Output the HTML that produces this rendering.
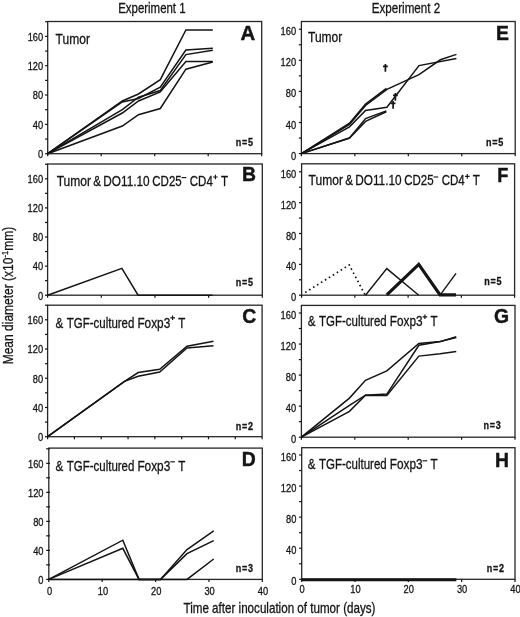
<!DOCTYPE html>
<html><head><meta charset="utf-8"><title>figure</title>
<style>html,body{margin:0;padding:0;background:#fff;}svg{display:block;filter:grayscale(1);}text{font-family:"Liberation Sans",sans-serif;fill:#141414;stroke:#141414;stroke-width:0.3px;}</style>
</head><body>
<svg width="520" height="617" viewBox="0 0 520 617">
<rect x="0" y="0" width="520" height="617" fill="#ffffff"/>
<text transform="translate(118.20,13.00) scale(0.79,1)" font-size="14.5" text-anchor="start" font-weight="normal" >Experiment 1</text>
<text transform="translate(371.80,13.00) scale(0.8,1)" font-size="14.5" text-anchor="start" font-weight="normal" >Experiment 2</text>
<rect x="47.70" y="21.50" width="214.00" height="132.20" fill="none" stroke="#262626" stroke-width="1.3"/>
<line x1="45.10" y1="153.70" x2="47.70" y2="153.70" stroke="#141414" stroke-width="1.2"/>
<text transform="translate(43.20,158.00) scale(0.81,1)" font-size="11.5" text-anchor="end" font-weight="normal" >0</text>
<line x1="45.10" y1="139.04" x2="47.70" y2="139.04" stroke="#141414" stroke-width="1.2"/>
<line x1="45.10" y1="124.38" x2="47.70" y2="124.38" stroke="#141414" stroke-width="1.2"/>
<text transform="translate(43.20,128.68) scale(0.81,1)" font-size="11.5" text-anchor="end" font-weight="normal" >40</text>
<line x1="45.10" y1="109.71" x2="47.70" y2="109.71" stroke="#141414" stroke-width="1.2"/>
<line x1="45.10" y1="95.05" x2="47.70" y2="95.05" stroke="#141414" stroke-width="1.2"/>
<text transform="translate(43.20,99.35) scale(0.81,1)" font-size="11.5" text-anchor="end" font-weight="normal" >80</text>
<line x1="45.10" y1="80.39" x2="47.70" y2="80.39" stroke="#141414" stroke-width="1.2"/>
<line x1="45.10" y1="65.72" x2="47.70" y2="65.72" stroke="#141414" stroke-width="1.2"/>
<text transform="translate(43.20,70.02) scale(0.81,1)" font-size="11.5" text-anchor="end" font-weight="normal" >120</text>
<line x1="45.10" y1="51.06" x2="47.70" y2="51.06" stroke="#141414" stroke-width="1.2"/>
<line x1="45.10" y1="36.40" x2="47.70" y2="36.40" stroke="#141414" stroke-width="1.2"/>
<text transform="translate(43.20,40.70) scale(0.81,1)" font-size="11.5" text-anchor="end" font-weight="normal" >160</text>
<line x1="45.10" y1="21.74" x2="47.70" y2="21.74" stroke="#141414" stroke-width="1.2"/>
<line x1="47.70" y1="153.70" x2="47.70" y2="156.30" stroke="#141414" stroke-width="1.2"/>
<line x1="101.20" y1="153.70" x2="101.20" y2="156.30" stroke="#141414" stroke-width="1.2"/>
<line x1="154.70" y1="153.70" x2="154.70" y2="156.30" stroke="#141414" stroke-width="1.2"/>
<line x1="208.20" y1="153.70" x2="208.20" y2="156.30" stroke="#141414" stroke-width="1.2"/>
<line x1="261.70" y1="153.70" x2="261.70" y2="156.30" stroke="#141414" stroke-width="1.2"/>
<rect x="47.60" y="164.00" width="214.70" height="131.20" fill="none" stroke="#262626" stroke-width="1.3"/>
<line x1="45.00" y1="295.20" x2="47.60" y2="295.20" stroke="#141414" stroke-width="1.2"/>
<text transform="translate(43.10,299.50) scale(0.81,1)" font-size="11.5" text-anchor="end" font-weight="normal" >0</text>
<line x1="45.00" y1="280.65" x2="47.60" y2="280.65" stroke="#141414" stroke-width="1.2"/>
<line x1="45.00" y1="266.10" x2="47.60" y2="266.10" stroke="#141414" stroke-width="1.2"/>
<text transform="translate(43.10,270.40) scale(0.81,1)" font-size="11.5" text-anchor="end" font-weight="normal" >40</text>
<line x1="45.00" y1="251.55" x2="47.60" y2="251.55" stroke="#141414" stroke-width="1.2"/>
<line x1="45.00" y1="237.00" x2="47.60" y2="237.00" stroke="#141414" stroke-width="1.2"/>
<text transform="translate(43.10,241.30) scale(0.81,1)" font-size="11.5" text-anchor="end" font-weight="normal" >80</text>
<line x1="45.00" y1="222.45" x2="47.60" y2="222.45" stroke="#141414" stroke-width="1.2"/>
<line x1="45.00" y1="207.90" x2="47.60" y2="207.90" stroke="#141414" stroke-width="1.2"/>
<text transform="translate(43.10,212.20) scale(0.81,1)" font-size="11.5" text-anchor="end" font-weight="normal" >120</text>
<line x1="45.00" y1="193.35" x2="47.60" y2="193.35" stroke="#141414" stroke-width="1.2"/>
<line x1="45.00" y1="178.80" x2="47.60" y2="178.80" stroke="#141414" stroke-width="1.2"/>
<text transform="translate(43.10,183.10) scale(0.81,1)" font-size="11.5" text-anchor="end" font-weight="normal" >160</text>
<line x1="45.00" y1="164.25" x2="47.60" y2="164.25" stroke="#141414" stroke-width="1.2"/>
<line x1="47.60" y1="295.20" x2="47.60" y2="297.80" stroke="#141414" stroke-width="1.2"/>
<line x1="101.28" y1="295.20" x2="101.28" y2="297.80" stroke="#141414" stroke-width="1.2"/>
<line x1="154.95" y1="295.20" x2="154.95" y2="297.80" stroke="#141414" stroke-width="1.2"/>
<line x1="208.62" y1="295.20" x2="208.62" y2="297.80" stroke="#141414" stroke-width="1.2"/>
<line x1="262.30" y1="295.20" x2="262.30" y2="297.80" stroke="#141414" stroke-width="1.2"/>
<rect x="47.60" y="305.20" width="214.50" height="131.50" fill="none" stroke="#262626" stroke-width="1.3"/>
<line x1="45.00" y1="436.70" x2="47.60" y2="436.70" stroke="#141414" stroke-width="1.2"/>
<text transform="translate(43.10,441.00) scale(0.81,1)" font-size="11.5" text-anchor="end" font-weight="normal" >0</text>
<line x1="45.00" y1="422.09" x2="47.60" y2="422.09" stroke="#141414" stroke-width="1.2"/>
<line x1="45.00" y1="407.48" x2="47.60" y2="407.48" stroke="#141414" stroke-width="1.2"/>
<text transform="translate(43.10,411.78) scale(0.81,1)" font-size="11.5" text-anchor="end" font-weight="normal" >40</text>
<line x1="45.00" y1="392.86" x2="47.60" y2="392.86" stroke="#141414" stroke-width="1.2"/>
<line x1="45.00" y1="378.25" x2="47.60" y2="378.25" stroke="#141414" stroke-width="1.2"/>
<text transform="translate(43.10,382.55) scale(0.81,1)" font-size="11.5" text-anchor="end" font-weight="normal" >80</text>
<line x1="45.00" y1="363.64" x2="47.60" y2="363.64" stroke="#141414" stroke-width="1.2"/>
<line x1="45.00" y1="349.02" x2="47.60" y2="349.02" stroke="#141414" stroke-width="1.2"/>
<text transform="translate(43.10,353.32) scale(0.81,1)" font-size="11.5" text-anchor="end" font-weight="normal" >120</text>
<line x1="45.00" y1="334.41" x2="47.60" y2="334.41" stroke="#141414" stroke-width="1.2"/>
<line x1="45.00" y1="319.80" x2="47.60" y2="319.80" stroke="#141414" stroke-width="1.2"/>
<text transform="translate(43.10,324.10) scale(0.81,1)" font-size="11.5" text-anchor="end" font-weight="normal" >160</text>
<line x1="45.00" y1="305.19" x2="47.60" y2="305.19" stroke="#141414" stroke-width="1.2"/>
<line x1="47.60" y1="436.70" x2="47.60" y2="439.30" stroke="#141414" stroke-width="1.2"/>
<line x1="74.41" y1="436.70" x2="74.41" y2="439.30" stroke="#141414" stroke-width="1.2"/>
<line x1="101.23" y1="436.70" x2="101.23" y2="439.30" stroke="#141414" stroke-width="1.2"/>
<line x1="128.04" y1="436.70" x2="128.04" y2="439.30" stroke="#141414" stroke-width="1.2"/>
<line x1="154.85" y1="436.70" x2="154.85" y2="439.30" stroke="#141414" stroke-width="1.2"/>
<line x1="181.66" y1="436.70" x2="181.66" y2="439.30" stroke="#141414" stroke-width="1.2"/>
<line x1="208.48" y1="436.70" x2="208.48" y2="439.30" stroke="#141414" stroke-width="1.2"/>
<line x1="235.29" y1="436.70" x2="235.29" y2="439.30" stroke="#141414" stroke-width="1.2"/>
<line x1="262.10" y1="436.70" x2="262.10" y2="439.30" stroke="#141414" stroke-width="1.2"/>
<rect x="48.80" y="448.10" width="213.50" height="131.30" fill="none" stroke="#262626" stroke-width="1.3"/>
<line x1="46.20" y1="579.40" x2="50.00" y2="579.40" stroke="#141414" stroke-width="1.2"/>
<text transform="translate(43.50,583.70) scale(0.81,1)" font-size="11.5" text-anchor="end" font-weight="normal" >0</text>
<line x1="46.20" y1="564.89" x2="50.00" y2="564.89" stroke="#141414" stroke-width="1.2"/>
<line x1="46.20" y1="550.38" x2="50.00" y2="550.38" stroke="#141414" stroke-width="1.2"/>
<text transform="translate(43.50,554.67) scale(0.81,1)" font-size="11.5" text-anchor="end" font-weight="normal" >40</text>
<line x1="46.20" y1="535.86" x2="50.00" y2="535.86" stroke="#141414" stroke-width="1.2"/>
<line x1="46.20" y1="521.35" x2="50.00" y2="521.35" stroke="#141414" stroke-width="1.2"/>
<text transform="translate(43.50,525.65) scale(0.81,1)" font-size="11.5" text-anchor="end" font-weight="normal" >80</text>
<line x1="46.20" y1="506.84" x2="50.00" y2="506.84" stroke="#141414" stroke-width="1.2"/>
<line x1="46.20" y1="492.32" x2="50.00" y2="492.32" stroke="#141414" stroke-width="1.2"/>
<text transform="translate(43.50,496.62) scale(0.81,1)" font-size="11.5" text-anchor="end" font-weight="normal" >120</text>
<line x1="46.20" y1="477.81" x2="50.00" y2="477.81" stroke="#141414" stroke-width="1.2"/>
<line x1="46.20" y1="463.30" x2="50.00" y2="463.30" stroke="#141414" stroke-width="1.2"/>
<text transform="translate(43.50,467.60) scale(0.81,1)" font-size="11.5" text-anchor="end" font-weight="normal" >160</text>
<line x1="46.20" y1="448.79" x2="50.00" y2="448.79" stroke="#141414" stroke-width="1.2"/>
<line x1="48.80" y1="579.40" x2="48.80" y2="582.00" stroke="#141414" stroke-width="1.2"/>
<line x1="102.17" y1="579.40" x2="102.17" y2="582.00" stroke="#141414" stroke-width="1.2"/>
<line x1="155.55" y1="579.40" x2="155.55" y2="582.00" stroke="#141414" stroke-width="1.2"/>
<line x1="208.93" y1="579.40" x2="208.93" y2="582.00" stroke="#141414" stroke-width="1.2"/>
<line x1="262.30" y1="579.40" x2="262.30" y2="582.00" stroke="#141414" stroke-width="1.2"/>
<rect x="301.40" y="21.50" width="213.80" height="132.10" fill="none" stroke="#262626" stroke-width="1.3"/>
<line x1="298.80" y1="153.60" x2="301.40" y2="153.60" stroke="#141414" stroke-width="1.2"/>
<text transform="translate(296.10,159.60) scale(0.81,1)" font-size="11.5" text-anchor="end" font-weight="normal" >0</text>
<line x1="298.80" y1="138.05" x2="301.40" y2="138.05" stroke="#141414" stroke-width="1.2"/>
<line x1="298.80" y1="122.50" x2="301.40" y2="122.50" stroke="#141414" stroke-width="1.2"/>
<text transform="translate(296.10,128.50) scale(0.81,1)" font-size="11.5" text-anchor="end" font-weight="normal" >40</text>
<line x1="298.80" y1="106.95" x2="301.40" y2="106.95" stroke="#141414" stroke-width="1.2"/>
<line x1="298.80" y1="91.40" x2="301.40" y2="91.40" stroke="#141414" stroke-width="1.2"/>
<text transform="translate(296.10,97.40) scale(0.81,1)" font-size="11.5" text-anchor="end" font-weight="normal" >80</text>
<line x1="298.80" y1="75.85" x2="301.40" y2="75.85" stroke="#141414" stroke-width="1.2"/>
<line x1="298.80" y1="60.30" x2="301.40" y2="60.30" stroke="#141414" stroke-width="1.2"/>
<text transform="translate(296.10,66.30) scale(0.81,1)" font-size="11.5" text-anchor="end" font-weight="normal" >120</text>
<line x1="298.80" y1="44.75" x2="301.40" y2="44.75" stroke="#141414" stroke-width="1.2"/>
<line x1="298.80" y1="29.20" x2="301.40" y2="29.20" stroke="#141414" stroke-width="1.2"/>
<text transform="translate(296.10,35.20) scale(0.81,1)" font-size="11.5" text-anchor="end" font-weight="normal" >160</text>
<line x1="301.40" y1="153.60" x2="301.40" y2="156.20" stroke="#141414" stroke-width="1.2"/>
<line x1="354.85" y1="153.60" x2="354.85" y2="156.20" stroke="#141414" stroke-width="1.2"/>
<line x1="408.30" y1="153.60" x2="408.30" y2="156.20" stroke="#141414" stroke-width="1.2"/>
<line x1="461.75" y1="153.60" x2="461.75" y2="156.20" stroke="#141414" stroke-width="1.2"/>
<line x1="515.20" y1="153.60" x2="515.20" y2="156.20" stroke="#141414" stroke-width="1.2"/>
<rect x="301.60" y="163.80" width="213.00" height="131.40" fill="none" stroke="#262626" stroke-width="1.3"/>
<line x1="299.00" y1="295.20" x2="301.60" y2="295.20" stroke="#141414" stroke-width="1.2"/>
<text transform="translate(296.30,301.20) scale(0.81,1)" font-size="11.5" text-anchor="end" font-weight="normal" >0</text>
<line x1="299.00" y1="279.77" x2="301.60" y2="279.77" stroke="#141414" stroke-width="1.2"/>
<line x1="299.00" y1="264.35" x2="301.60" y2="264.35" stroke="#141414" stroke-width="1.2"/>
<text transform="translate(296.30,270.35) scale(0.81,1)" font-size="11.5" text-anchor="end" font-weight="normal" >40</text>
<line x1="299.00" y1="248.93" x2="301.60" y2="248.93" stroke="#141414" stroke-width="1.2"/>
<line x1="299.00" y1="233.50" x2="301.60" y2="233.50" stroke="#141414" stroke-width="1.2"/>
<text transform="translate(296.30,239.50) scale(0.81,1)" font-size="11.5" text-anchor="end" font-weight="normal" >80</text>
<line x1="299.00" y1="218.07" x2="301.60" y2="218.07" stroke="#141414" stroke-width="1.2"/>
<line x1="299.00" y1="202.65" x2="301.60" y2="202.65" stroke="#141414" stroke-width="1.2"/>
<text transform="translate(296.30,208.65) scale(0.81,1)" font-size="11.5" text-anchor="end" font-weight="normal" >120</text>
<line x1="299.00" y1="187.23" x2="301.60" y2="187.23" stroke="#141414" stroke-width="1.2"/>
<line x1="299.00" y1="171.80" x2="301.60" y2="171.80" stroke="#141414" stroke-width="1.2"/>
<text transform="translate(296.30,177.80) scale(0.81,1)" font-size="11.5" text-anchor="end" font-weight="normal" >160</text>
<line x1="301.60" y1="295.20" x2="301.60" y2="297.80" stroke="#141414" stroke-width="1.2"/>
<line x1="354.85" y1="295.20" x2="354.85" y2="297.80" stroke="#141414" stroke-width="1.2"/>
<line x1="408.10" y1="295.20" x2="408.10" y2="297.80" stroke="#141414" stroke-width="1.2"/>
<line x1="461.35" y1="295.20" x2="461.35" y2="297.80" stroke="#141414" stroke-width="1.2"/>
<line x1="514.60" y1="295.20" x2="514.60" y2="297.80" stroke="#141414" stroke-width="1.2"/>
<rect x="301.40" y="305.40" width="213.60" height="131.80" fill="none" stroke="#262626" stroke-width="1.3"/>
<line x1="298.80" y1="437.20" x2="301.40" y2="437.20" stroke="#141414" stroke-width="1.2"/>
<text transform="translate(296.10,443.20) scale(0.81,1)" font-size="11.5" text-anchor="end" font-weight="normal" >0</text>
<line x1="298.80" y1="421.68" x2="301.40" y2="421.68" stroke="#141414" stroke-width="1.2"/>
<line x1="298.80" y1="406.15" x2="301.40" y2="406.15" stroke="#141414" stroke-width="1.2"/>
<text transform="translate(296.10,412.15) scale(0.81,1)" font-size="11.5" text-anchor="end" font-weight="normal" >40</text>
<line x1="298.80" y1="390.62" x2="301.40" y2="390.62" stroke="#141414" stroke-width="1.2"/>
<line x1="298.80" y1="375.10" x2="301.40" y2="375.10" stroke="#141414" stroke-width="1.2"/>
<text transform="translate(296.10,381.10) scale(0.81,1)" font-size="11.5" text-anchor="end" font-weight="normal" >80</text>
<line x1="298.80" y1="359.57" x2="301.40" y2="359.57" stroke="#141414" stroke-width="1.2"/>
<line x1="298.80" y1="344.05" x2="301.40" y2="344.05" stroke="#141414" stroke-width="1.2"/>
<text transform="translate(296.10,350.05) scale(0.81,1)" font-size="11.5" text-anchor="end" font-weight="normal" >120</text>
<line x1="298.80" y1="328.52" x2="301.40" y2="328.52" stroke="#141414" stroke-width="1.2"/>
<line x1="298.80" y1="313.00" x2="301.40" y2="313.00" stroke="#141414" stroke-width="1.2"/>
<text transform="translate(296.10,319.00) scale(0.81,1)" font-size="11.5" text-anchor="end" font-weight="normal" >160</text>
<line x1="301.40" y1="437.20" x2="301.40" y2="439.80" stroke="#141414" stroke-width="1.2"/>
<line x1="354.80" y1="437.20" x2="354.80" y2="439.80" stroke="#141414" stroke-width="1.2"/>
<line x1="408.20" y1="437.20" x2="408.20" y2="439.80" stroke="#141414" stroke-width="1.2"/>
<line x1="461.60" y1="437.20" x2="461.60" y2="439.80" stroke="#141414" stroke-width="1.2"/>
<line x1="515.00" y1="437.20" x2="515.00" y2="439.80" stroke="#141414" stroke-width="1.2"/>
<rect x="301.70" y="447.70" width="213.30" height="131.60" fill="none" stroke="#262626" stroke-width="1.3"/>
<line x1="299.10" y1="579.30" x2="301.70" y2="579.30" stroke="#141414" stroke-width="1.2"/>
<text transform="translate(296.40,585.30) scale(0.81,1)" font-size="11.5" text-anchor="end" font-weight="normal" >0</text>
<line x1="299.10" y1="563.76" x2="301.70" y2="563.76" stroke="#141414" stroke-width="1.2"/>
<line x1="299.10" y1="548.22" x2="301.70" y2="548.22" stroke="#141414" stroke-width="1.2"/>
<text transform="translate(296.40,554.22) scale(0.81,1)" font-size="11.5" text-anchor="end" font-weight="normal" >40</text>
<line x1="299.10" y1="532.69" x2="301.70" y2="532.69" stroke="#141414" stroke-width="1.2"/>
<line x1="299.10" y1="517.15" x2="301.70" y2="517.15" stroke="#141414" stroke-width="1.2"/>
<text transform="translate(296.40,523.15) scale(0.81,1)" font-size="11.5" text-anchor="end" font-weight="normal" >80</text>
<line x1="299.10" y1="501.61" x2="301.70" y2="501.61" stroke="#141414" stroke-width="1.2"/>
<line x1="299.10" y1="486.07" x2="301.70" y2="486.07" stroke="#141414" stroke-width="1.2"/>
<text transform="translate(296.40,492.07) scale(0.81,1)" font-size="11.5" text-anchor="end" font-weight="normal" >120</text>
<line x1="299.10" y1="470.54" x2="301.70" y2="470.54" stroke="#141414" stroke-width="1.2"/>
<line x1="299.10" y1="455.00" x2="301.70" y2="455.00" stroke="#141414" stroke-width="1.2"/>
<text transform="translate(296.40,461.00) scale(0.81,1)" font-size="11.5" text-anchor="end" font-weight="normal" >160</text>
<line x1="301.70" y1="579.30" x2="301.70" y2="581.90" stroke="#141414" stroke-width="1.2"/>
<line x1="355.02" y1="579.30" x2="355.02" y2="581.90" stroke="#141414" stroke-width="1.2"/>
<line x1="408.35" y1="579.30" x2="408.35" y2="581.90" stroke="#141414" stroke-width="1.2"/>
<line x1="461.68" y1="579.30" x2="461.68" y2="581.90" stroke="#141414" stroke-width="1.2"/>
<line x1="515.00" y1="579.30" x2="515.00" y2="581.90" stroke="#141414" stroke-width="1.2"/>
<text transform="translate(49.50,594.50) scale(0.81,1)" font-size="11.5" text-anchor="middle" font-weight="normal" >0</text>
<text transform="translate(302.10,593.00) scale(0.81,1)" font-size="11.5" text-anchor="middle" font-weight="normal" >0</text>
<text transform="translate(102.88,594.50) scale(0.81,1)" font-size="11.5" text-anchor="middle" font-weight="normal" >10</text>
<text transform="translate(355.42,593.00) scale(0.81,1)" font-size="11.5" text-anchor="middle" font-weight="normal" >10</text>
<text transform="translate(156.25,594.50) scale(0.81,1)" font-size="11.5" text-anchor="middle" font-weight="normal" >20</text>
<text transform="translate(408.75,593.00) scale(0.81,1)" font-size="11.5" text-anchor="middle" font-weight="normal" >20</text>
<text transform="translate(209.62,594.50) scale(0.81,1)" font-size="11.5" text-anchor="middle" font-weight="normal" >30</text>
<text transform="translate(462.07,593.00) scale(0.81,1)" font-size="11.5" text-anchor="middle" font-weight="normal" >30</text>
<text transform="translate(263.00,594.50) scale(0.81,1)" font-size="11.5" text-anchor="middle" font-weight="normal" >40</text>
<text transform="translate(515.40,593.00) scale(0.81,1)" font-size="11.5" text-anchor="middle" font-weight="normal" >40</text>
<text transform="translate(183.50,612.50) scale(0.83,1)" font-size="14" text-anchor="start" font-weight="normal" >Time after inoculation of tumor (days)</text>
<text transform="translate(12.80,364.30) rotate(-90) scale(0.8,1)" font-size="15" text-anchor="start">Mean diameter (x10<tspan font-size="9.5" dy="-5">-1</tspan><tspan dy="5">mm)</tspan></text>
<text transform="translate(240.60,40.40) scale(1.0,1)" font-size="20.4" text-anchor="start" font-weight="bold" style="stroke-width:0.45px">A</text>
<text transform="translate(242.10,181.20) scale(0.95,1)" font-size="20.4" text-anchor="start" font-weight="bold" style="stroke-width:0.45px">B</text>
<text transform="translate(242.20,322.90) scale(0.95,1)" font-size="20.4" text-anchor="start" font-weight="bold" style="stroke-width:0.45px">C</text>
<text transform="translate(241.80,465.60) scale(0.95,1)" font-size="20.4" text-anchor="start" font-weight="bold" style="stroke-width:0.45px">D</text>
<text transform="translate(496.00,40.20) scale(0.95,1)" font-size="20.4" text-anchor="start" font-weight="bold" style="stroke-width:0.45px">E</text>
<text transform="translate(497.20,181.80) scale(0.89,1)" font-size="20.4" text-anchor="start" font-weight="bold" style="stroke-width:0.45px">F</text>
<text transform="translate(494.10,322.80) scale(0.95,1)" font-size="20.4" text-anchor="start" font-weight="bold" style="stroke-width:0.45px">G</text>
<text transform="translate(495.10,466.50) scale(0.95,1)" font-size="20.4" text-anchor="start" font-weight="bold" style="stroke-width:0.45px">H</text>
<text transform="translate(55.60,43.60) scale(0.83,1)" font-size="14.5" text-anchor="start" font-weight="normal" >Tumor</text>
<text transform="translate(56.70,186.00) scale(0.83,1)" font-size="14.5" text-anchor="start" font-weight="normal" >Tumor</text>
<text transform="translate(93.30,186.00) scale(0.8,1)" font-size="14.5" text-anchor="start" font-weight="normal" >&amp;</text>
<text transform="translate(103.30,186.00) scale(0.815,1)" font-size="14.5" text-anchor="start" font-weight="normal" >DO11.10</text>
<text transform="translate(152.30,186.00) scale(0.795,1)" font-size="14.5" text-anchor="start" font-weight="normal" >CD25</text>
<path d="M181.70,177.60 H186.30" stroke="#141414" stroke-width="1.15" fill="none"/>
<text transform="translate(189.80,186.00) scale(0.795,1)" font-size="14.5" text-anchor="start" font-weight="normal" >CD4</text>
<path d="M213.10,177.00 H217.70 M215.40,174.70 V179.30" stroke="#141414" stroke-width="1.15" fill="none"/>
<text transform="translate(220.90,186.00) scale(0.8,1)" font-size="14.5" text-anchor="start" font-weight="normal" >T</text>
<text transform="translate(55.50,327.50) scale(0.8,1)" font-size="14.5" text-anchor="start" font-weight="normal" >&amp;</text>
<text transform="translate(66.80,327.50) scale(0.792,1)" font-size="14.5" text-anchor="start" font-weight="normal" >TGF-cultured</text>
<text transform="translate(137.40,327.50) scale(0.815,1)" font-size="14.5" text-anchor="start" font-weight="normal" >Foxp3</text>
<path d="M170.30,317.80 H174.90 M172.60,315.50 V320.10" stroke="#141414" stroke-width="1.15" fill="none"/>
<text transform="translate(178.20,327.50) scale(0.8,1)" font-size="14.5" text-anchor="start" font-weight="normal" >T</text>
<text transform="translate(55.50,470.70) scale(0.8,1)" font-size="14.5" text-anchor="start" font-weight="normal" >&amp;</text>
<text transform="translate(66.80,470.70) scale(0.792,1)" font-size="14.5" text-anchor="start" font-weight="normal" >TGF-cultured</text>
<text transform="translate(137.40,470.70) scale(0.815,1)" font-size="14.5" text-anchor="start" font-weight="normal" >Foxp3</text>
<path d="M170.30,461.80 H174.90" stroke="#141414" stroke-width="1.15" fill="none"/>
<text transform="translate(178.20,470.70) scale(0.8,1)" font-size="14.5" text-anchor="start" font-weight="normal" >T</text>
<text transform="translate(308.00,42.20) scale(0.83,1)" font-size="14.5" text-anchor="start" font-weight="normal" >Tumor</text>
<text transform="translate(308.60,185.40) scale(0.83,1)" font-size="14.5" text-anchor="start" font-weight="normal" >Tumor</text>
<text transform="translate(345.20,185.40) scale(0.8,1)" font-size="14.5" text-anchor="start" font-weight="normal" >&amp;</text>
<text transform="translate(355.20,185.40) scale(0.815,1)" font-size="14.5" text-anchor="start" font-weight="normal" >DO11.10</text>
<text transform="translate(404.20,185.40) scale(0.795,1)" font-size="14.5" text-anchor="start" font-weight="normal" >CD25</text>
<path d="M433.60,177.00 H438.20" stroke="#141414" stroke-width="1.15" fill="none"/>
<text transform="translate(441.70,185.40) scale(0.795,1)" font-size="14.5" text-anchor="start" font-weight="normal" >CD4</text>
<path d="M465.00,176.40 H469.60 M467.30,174.10 V178.70" stroke="#141414" stroke-width="1.15" fill="none"/>
<text transform="translate(472.80,185.40) scale(0.8,1)" font-size="14.5" text-anchor="start" font-weight="normal" >T</text>
<text transform="translate(307.80,325.80) scale(0.8,1)" font-size="14.5" text-anchor="start" font-weight="normal" >&amp;</text>
<text transform="translate(319.10,325.80) scale(0.792,1)" font-size="14.5" text-anchor="start" font-weight="normal" >TGF-cultured</text>
<text transform="translate(389.70,325.80) scale(0.815,1)" font-size="14.5" text-anchor="start" font-weight="normal" >Foxp3</text>
<path d="M422.60,316.80 H427.20 M424.90,314.50 V319.10" stroke="#141414" stroke-width="1.15" fill="none"/>
<text transform="translate(430.50,325.80) scale(0.8,1)" font-size="14.5" text-anchor="start" font-weight="normal" >T</text>
<text transform="translate(307.80,469.20) scale(0.8,1)" font-size="14.5" text-anchor="start" font-weight="normal" >&amp;</text>
<text transform="translate(319.10,469.20) scale(0.792,1)" font-size="14.5" text-anchor="start" font-weight="normal" >TGF-cultured</text>
<text transform="translate(389.70,469.20) scale(0.815,1)" font-size="14.5" text-anchor="start" font-weight="normal" >Foxp3</text>
<path d="M422.60,460.80 H427.20" stroke="#141414" stroke-width="1.15" fill="none"/>
<text transform="translate(430.50,469.20) scale(0.8,1)" font-size="14.5" text-anchor="start" font-weight="normal" >T</text>
<text transform="translate(235.80,146.00) scale(0.86,1)" font-size="10.5" text-anchor="start" font-weight="bold" letter-spacing="0.9">n=5</text>
<text transform="translate(235.80,285.70) scale(0.86,1)" font-size="10.5" text-anchor="start" font-weight="bold" letter-spacing="0.9">n=5</text>
<text transform="translate(235.80,429.70) scale(0.86,1)" font-size="10.5" text-anchor="start" font-weight="bold" letter-spacing="0.9">n=2</text>
<text transform="translate(235.80,571.60) scale(0.86,1)" font-size="10.5" text-anchor="start" font-weight="bold" letter-spacing="0.9">n=3</text>
<text transform="translate(486.00,146.00) scale(0.86,1)" font-size="10.5" text-anchor="start" font-weight="bold" letter-spacing="0.9">n=5</text>
<text transform="translate(484.20,285.20) scale(0.86,1)" font-size="10.5" text-anchor="start" font-weight="bold" letter-spacing="0.9">n=5</text>
<text transform="translate(483.50,429.00) scale(0.86,1)" font-size="10.5" text-anchor="start" font-weight="bold" letter-spacing="0.9">n=3</text>
<text transform="translate(486.70,571.80) scale(0.86,1)" font-size="10.5" text-anchor="start" font-weight="bold" letter-spacing="0.9">n=2</text>
<polyline points="47.70,153.70 122.30,101.00 138.50,94.00 160.30,79.70 185.90,29.90 212.80,29.90" fill="none" stroke="#141414" stroke-width="1.5" stroke-linejoin="miter" stroke-linecap="butt"/>
<polyline points="47.70,153.70 122.30,102.00 138.50,98.50 160.30,87.20 185.90,50.00 212.80,48.20" fill="none" stroke="#141414" stroke-width="1.5" stroke-linejoin="miter" stroke-linecap="butt"/>
<polyline points="47.70,153.70 122.30,109.70 138.50,97.20 160.30,90.50 185.90,54.60 212.80,50.20" fill="none" stroke="#141414" stroke-width="1.5" stroke-linejoin="miter" stroke-linecap="butt"/>
<polyline points="47.70,153.70 122.30,113.00 138.50,101.00 160.30,92.00 185.90,61.50 212.80,61.50" fill="none" stroke="#141414" stroke-width="1.5" stroke-linejoin="miter" stroke-linecap="butt"/>
<polyline points="47.70,153.70 122.30,126.00 138.50,114.70 160.30,108.50 185.90,69.20 212.80,62.00" fill="none" stroke="#141414" stroke-width="1.5" stroke-linejoin="miter" stroke-linecap="butt"/>
<polyline points="47.60,295.20 121.90,268.30 138.10,295.20 212.60,295.20" fill="none" stroke="#141414" stroke-width="1.5" stroke-linejoin="miter" stroke-linecap="butt"/>
<polyline points="47.60,436.70 124.50,381.40 138.20,372.50 159.70,369.30 187.00,346.30 213.50,341.30" fill="none" stroke="#141414" stroke-width="1.5" stroke-linejoin="miter" stroke-linecap="butt"/>
<polyline points="47.60,436.70 124.50,381.40 138.20,376.30 159.70,372.00 187.00,348.00 213.50,345.80" fill="none" stroke="#141414" stroke-width="1.5" stroke-linejoin="miter" stroke-linecap="butt"/>
<polyline points="48.80,579.40 122.80,540.20 139.00,579.40 160.50,579.40 187.00,549.60 213.70,530.80" fill="none" stroke="#141414" stroke-width="1.5" stroke-linejoin="miter" stroke-linecap="butt"/>
<polyline points="48.80,579.40 122.80,548.30 139.00,579.40 160.50,579.40 187.00,553.70 213.70,540.70" fill="none" stroke="#141414" stroke-width="1.5" stroke-linejoin="miter" stroke-linecap="butt"/>
<polyline points="48.80,579.40 187.00,579.40 213.70,559.00" fill="none" stroke="#141414" stroke-width="1.5" stroke-linejoin="miter" stroke-linecap="butt"/>
<polyline points="301.40,153.60 349.50,124.40 365.54,105.40 386.92,89.30 418.99,74.60 440.37,59.80 456.41,54.40" fill="none" stroke="#141414" stroke-width="1.5" stroke-linejoin="miter" stroke-linecap="butt"/>
<polyline points="301.40,153.60 349.50,123.20 365.54,104.00 386.42,88.30" fill="none" stroke="#141414" stroke-width="1.5" stroke-linejoin="miter" stroke-linecap="butt"/>
<polyline points="301.40,153.60 349.50,126.80 365.54,110.40 386.92,107.20 418.99,65.60 456.41,58.50" fill="none" stroke="#141414" stroke-width="1.5" stroke-linejoin="miter" stroke-linecap="butt"/>
<polyline points="301.40,153.60 349.50,138.00 365.54,118.60 386.32,110.90" fill="none" stroke="#141414" stroke-width="1.5" stroke-linejoin="miter" stroke-linecap="butt"/>
<polyline points="301.40,153.60 349.50,138.00 365.54,121.40 386.32,111.70" fill="none" stroke="#141414" stroke-width="1.5" stroke-linejoin="miter" stroke-linecap="butt"/>
<path d="M385.40,64.00 V71.80 M383.00,66.40 H387.80" stroke="#141414" stroke-width="1.7" fill="none"/>
<path d="M395.40,92.90 V100.70 M393.00,95.30 H397.80" stroke="#141414" stroke-width="1.7" fill="none"/>
<path d="M393.10,101.00 V108.80 M390.70,103.40 H395.50" stroke="#141414" stroke-width="1.7" fill="none"/>
<polyline points="305.20,292.50 349.23,265.00 365.20,295.20" fill="none" stroke="#141414" stroke-width="1.7" stroke-linejoin="miter" stroke-linecap="butt" stroke-dasharray="1.6 3.05"/>
<polyline points="365.50,295.20 386.80,268.60 418.75,295.20" fill="none" stroke="#141414" stroke-width="1.4" stroke-linejoin="miter" stroke-linecap="butt"/>
<polyline points="440.05,295.20 456.03,273.30" fill="none" stroke="#141414" stroke-width="1.4" stroke-linejoin="miter" stroke-linecap="butt"/>
<polyline points="386.80,294.80 418.75,264.40 440.05,294.80 456.03,294.80" fill="none" stroke="#141414" stroke-width="3.2" stroke-linejoin="miter" stroke-linecap="butt"/>
<polyline points="301.40,437.20 349.46,398.10 365.48,380.30 386.84,370.90 418.88,343.50 440.24,341.60 456.26,337.50" fill="none" stroke="#141414" stroke-width="1.5" stroke-linejoin="miter" stroke-linecap="butt"/>
<polyline points="301.40,437.20 349.46,405.40 365.48,395.20 386.84,394.10 418.88,345.30 440.24,341.60 456.26,336.70" fill="none" stroke="#141414" stroke-width="1.5" stroke-linejoin="miter" stroke-linecap="butt"/>
<polyline points="301.40,437.20 349.46,411.30 365.48,395.20 386.84,395.40 418.88,356.10 440.24,353.70 456.26,351.50" fill="none" stroke="#141414" stroke-width="1.5" stroke-linejoin="miter" stroke-linecap="butt"/>
<polyline points="301.70,579.70 456.34,579.70" fill="none" stroke="#141414" stroke-width="3.0" stroke-linejoin="miter" stroke-linecap="butt"/>
</svg>
</body></html>
